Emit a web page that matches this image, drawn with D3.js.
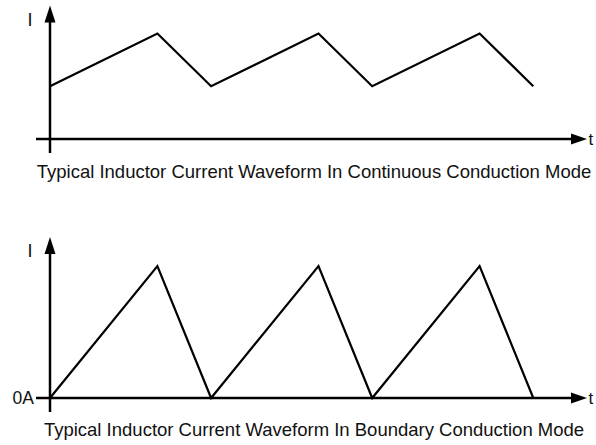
<!DOCTYPE html>
<html>
<head>
<meta charset="utf-8">
<script src="https://cdn.jsdelivr.net/npm/d3@7"></script>
<style>
  body { margin: 0; background: #fff; }
  text { font-family: "Liberation Sans", Arial, Helvetica, sans-serif; fill: #111; }
</style>
</head>
<body>
<svg id="drawing_region"></svg>
<script>
// waveform corner points (t in switching units, I normalised)
const ccmTime = [0, 2, 3, 5, 6, 8, 9];
const ccmCurrent = [1, 2, 1, 2, 1, 2, 1];
const bcmTime = [0, 2, 3, 5, 6, 8, 9];
const bcmCurrent = [0, 1, 0, 1, 0, 1, 0];
const captions = [
    "Typical Inductor Current Waveform In Continuous Conduction Mode",
    "Typical Inductor Current Waveform In Boundary Conduction Mode"
];

const W = 596, H = 445;
const svg = d3.select('#drawing_region').attr('width', W).attr('height', H);

function drawPanel(cfg) {
    const x = d3.scaleLinear().domain([0, 10]).range([50, 587]);
    const y = d3.scaleLinear().domain(cfg.yDomain).range([cfg.y0, cfg.yTop]);
    const g = svg.append('g');

    // axes
    g.append('line')
        .attr('x1', 36).attr('x2', x(10) - 12)
        .attr('y1', y(0)).attr('y2', y(0))
        .attr('stroke', '#000').attr('stroke-width', 2.5);
    g.append('line')
        .attr('x1', x(0)).attr('x2', x(0))
        .attr('y1', y(0) + 14).attr('y2', y(cfg.yDomain[1]) + 12)
        .attr('stroke', '#000').attr('stroke-width', 2.5);

    // arrow heads
    const tx = x(10), ty = y(0);
    g.append('path')
        .attr('d', `M${tx},${ty} L${tx - 16},${ty - 5.5} L${tx - 16},${ty + 5.5} Z`)
        .attr('fill', '#000');
    const ax = x(0), ay = y(cfg.yDomain[1]);
    g.append('path')
        .attr('d', `M${ax},${ay} L${ax - 5.5},${ay + 17} L${ax + 5.5},${ay + 17} Z`)
        .attr('fill', '#000');

    // waveform
    const line = d3.line().x(d => x(d[0])).y(d => y(d[1]));
    g.append('path')
        .datum(cfg.time.map((t, i) => [t, cfg.current[i]]))
        .attr('d', line)
        .attr('fill', 'none')
        .attr('stroke', '#000')
        .attr('stroke-width', 2.2)
        .attr('stroke-linejoin', 'miter');

    // labels
    g.append('text')
        .attr('x', 30).attr('y', ay + 20)
        .attr('text-anchor', 'middle')
        .style('font-size', '18px')
        .text('I');
    g.append('text')
        .attr('x', tx + 1.5).attr('y', ty + 6)
        .style('font-size', '17px')
        .text('t');
    if (cfg.zeroLabel) {
        g.append('text')
            .attr('x', 34).attr('y', y(0) + 6)
            .attr('text-anchor', 'end')
            .style('font-size', '17.5px')
            .text(cfg.zeroLabel);
    }
    g.append('text')
        .attr('x', 314).attr('y', cfg.captionY)
        .attr('text-anchor', 'middle')
        .style('font-size', '18.5px')
        .text(cfg.caption);
}

drawPanel({ time: ccmTime, current: ccmCurrent, yDomain: [0, 2.53], y0: 139, yTop: 5.5,
            caption: captions[0], captionY: 178 });
drawPanel({ time: bcmTime, current: bcmCurrent, yDomain: [0, 1.22], y0: 398, yTop: 237,
            caption: captions[1], captionY: 436, zeroLabel: '0A' });
</script>
</body>
</html>
